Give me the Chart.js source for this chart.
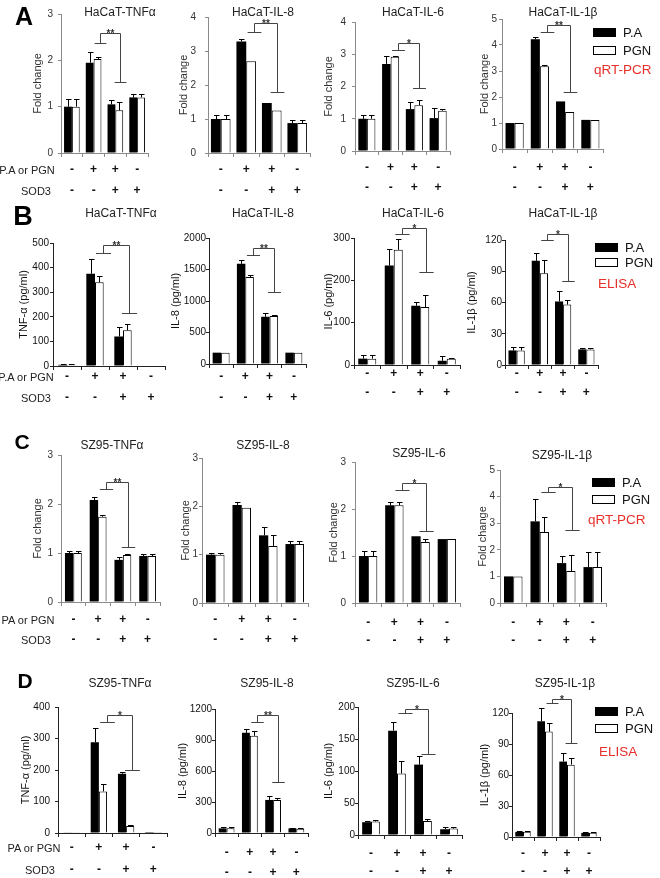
<!DOCTYPE html>
<html>
<head>
<meta charset="utf-8">
<script src="https://cdn.jsdelivr.net/npm/chart.js@4.4.1/dist/chart.umd.min.js"></script>
<style>
  body { margin: 0; background: #fff; }
  #fig { position: relative; width: 660px; height: 878px; overflow: hidden; font-family: "Liberation Sans", Arial, sans-serif; color: #222; }
  #fig canvas { position: absolute; }
  .lbl { position: absolute; transform: translate(-50%, -50%); line-height: 1; white-space: nowrap; }
  .left { transform: translate(0, -50%); }
  .key { position: absolute; width: 23px; height: 9px; box-sizing: border-box; border: 1px solid #000; }
</style>
</head>
<body>
<div id="fig"></div>
<script>
// treatment rows under each x axis
const paOrPgn = ['-', '+', '+', '-'];
const sod3 = ['-', '-', '+', '+'];

// A: HaCaT, qRT-PCR (fold change)
const aTnfPA = [1.0, 1.95, 1.05, 1.2];
const aTnfPAErr = [0.17, 0.23, 0.1, 0.08];
const aTnfPGN = [1.0, 2.03, 0.92, 1.2];
const aTnfPGNErr = [0.17, 0.04, 0.18, 0.08];
const aTnfSig = [2.37, 2.6, 1.53];

const aIl8PA = [1.0, 3.28, 1.47, 0.88];
const aIl8PAErr = [0.12, 0.08, 0, 0.08];
const aIl8PGN = [1.0, 2.7, 1.25, 0.88];
const aIl8PGNErr = [0.12, 0, 0, 0.08];
const aIl8Sig = [3.56, 3.82, 1.8];

const aIl6PA = [1.0, 2.7, 1.3, 1.02];
const aIl6PAErr = [0.12, 0.25, 0.22, 0.3];
const aIl6PGN = [1.0, 2.92, 1.42, 1.25];
const aIl6PGNErr = [0.12, 0.03, 0.15, 0.05];
const aIl6Sig = [3.13, 3.35, 1.95];

const aIl1PA = [1.0, 4.22, 1.83, 1.12];
const aIl1PAErr = [0, 0.08, 0, 0];
const aIl1PGN = [1.0, 3.18, 1.42, 1.12];
const aIl1PGNErr = [0, 0.05, 0, 0];
const aIl1Sig = [4.5, 4.77, 2.2];

// B: HaCaT, ELISA (pg/ml)
const bTnfPA = [5, 375, 120, 0];
const bTnfPAErr = [3, 60, 40, 0];
const bTnfPGN = [5, 340, 145, 0];
const bTnfPGNErr = [3, 25, 25, 0];
const bTnfSig = [460, 492, 215];

const bIl8PA = [180, 1590, 750, 180];
const bIl8PAErr = [0, 60, 60, 0];
const bIl8PGN = [180, 1380, 760, 180];
const bIl8PGNErr = [0, 40, 10, 0];
const bIl8Sig = [1730, 1840, 1140];

const bIl6PA = [15, 235, 140, 10];
const bIl6PAErr = [8, 40, 8, 12];
const bIl6PGN = [15, 272, 137, 15];
const bIl6PGNErr = [8, 25, 28, 2];
const bIl6Sig = [309, 323, 220];

const bIl1PA = [14, 100, 61, 15];
const bIl1PAErr = [3, 8, 10, 1];
const bIl1PGN = [14, 88, 58, 15];
const bIl1PGNErr = [3, 13, 4, 1];
const bIl1Sig = [120, 126, 81];

// C: SZ95, qRT-PCR (fold change)
const cTnfPA = [1.0, 2.08, 0.86, 0.94];
const cTnfPAErr = [0.04, 0.06, 0.06, 0.03];
const cTnfPGN = [1.0, 1.74, 0.96, 0.94];
const cTnfPGNErr = [0.04, 0.03, 0.01, 0.03];
const cTnfSig = [2.3, 2.45, 1.12];

const cIl8PA = [1.0, 2.03, 1.4, 1.22];
const cIl8PAErr = [0.03, 0.06, 0.18, 0.07];
const cIl8PGN = [1.0, 1.97, 1.18, 1.22];
const cIl8PGNErr = [0.03, 0, 0.23, 0.07];

const cIl6PA = [1.0, 2.08, 1.42, 1.36];
const cIl6PAErr = [0.1, 0.07, 0, 0];
const cIl6PGN = [1.0, 2.08, 1.3, 1.36];
const cIl6PGNErr = [0.1, 0.07, 0.07, 0];
const cIl6Sig = [2.4, 2.55, 1.53];

const cIl1PA = [1.0, 3.07, 1.5, 1.35];
const cIl1PAErr = [0, 0.85, 0.28, 0.57];
const cIl1PGN = [1.0, 2.67, 1.2, 1.35];
const cIl1PGNErr = [0, 0.55, 0.62, 0.57];
const cIl1Sig = [4.17, 4.36, 2.74];

// D: SZ95, ELISA (pg/ml)
const dTnfPA = [2, 288, 188, 3];
const dTnfPAErr = [0, 45, 5, 0];
const dTnfPGN = [2, 132, 22, 3];
const dTnfPGNErr = [0, 25, 3, 0];
const dTnfSig = [352, 375, 200];

const dIl8PA = [45, 970, 320, 45];
const dIl8PAErr = [15, 35, 35, 5];
const dIl8PGN = [45, 940, 320, 40];
const dIl8PGNErr = [15, 45, 20, 5];
const dIl8Sig = [1074, 1142, 494];

const dIl6PA = [20, 163, 110, 9];
const dIl6PAErr = [2, 13, 14, 4];
const dIl6PGN = [21, 96, 22, 10];
const dIl6PGNErr = [2, 20, 3, 2];
const dIl6Sig = [190, 197, 127];

const dIl1PA = [5, 112, 73, 4];
const dIl1PAErr = [1, 13, 8, 1];
const dIl1PGN = [5, 102, 70, 4];
const dIl1PGNErr = [1, 8, 6, 1];
const dIl1Sig = [130, 134, 91];

const fig = document.getElementById('fig');
const GREY = '#8a8a8a', DARK = '#222';

function addText(text, x, y, css) {
  const d = document.createElement('div');
  d.className = 'lbl' + (css && css.left ? ' left' : '');
  d.textContent = text;
  d.style.left = x + 'px';
  d.style.top = y + 'px';
  d.style.fontSize = (css && css.size || 12) + 'px';
  if (css && css.bold) d.style.fontWeight = 'bold';
  if (css && css.color) d.style.color = css.color;
  fig.appendChild(d);
}

// error bars: read value + err through the y scale
const errorBars = {
  id: 'errorBars',
  afterDatasetsDraw(chart) {
    const ctx = chart.ctx, y = chart.scales.y;
    chart.data.datasets.forEach((ds, di) => {
      chart.getDatasetMeta(di).data.forEach((bar, i) => {
        const e = ds.err[i];
        if (!e) return;
        const bx = Math.round(bar.x) + 0.5;
        const y0 = y.getPixelForValue(ds.data[i]);
        const y1 = Math.round(y.getPixelForValue(ds.data[i] + e)) + 0.5;
        ctx.save();
        ctx.strokeStyle = '#000';
        ctx.lineWidth = 1;
        ctx.beginPath();
        ctx.moveTo(bx, y0);
        ctx.lineTo(bx, y1);
        ctx.moveTo(bx - 2.5, y1);
        ctx.lineTo(bx + 3, y1);
        ctx.stroke();
        ctx.restore();
      });
    });
  }
};

// significance bracket between group 2 and group 3
const sigBracket = {
  id: 'sigBracket',
  afterDraw(chart, args, opts) {
    if (!opts.vals) return;
    const ctx = chart.ctx, xs = chart.scales.x, ys = chart.scales.y;
    const w = xs.getPixelForValue(1) - xs.getPixelForValue(0);
    const x1 = Math.round(xs.getPixelForValue(1) + 0.3 * w) + 0.5;
    const x2 = Math.round(xs.getPixelForValue(2) + 0.2 * w) + 0.5;
    const [l, t, r] = opts.vals.map(v => Math.round(ys.getPixelForValue(v)) + 0.5);
    const h = 0.27 * w;
    ctx.save();
    ctx.strokeStyle = '#444';
    ctx.lineWidth = 1;
    ctx.beginPath();
    ctx.moveTo(x1 - h, l); ctx.lineTo(x1 + h, l);
    ctx.moveTo(x1, l); ctx.lineTo(x1, t); ctx.lineTo(x2, t); ctx.lineTo(x2, r);
    ctx.moveTo(x2 - h, r); ctx.lineTo(x2 + h, r);
    ctx.stroke();
    ctx.fillStyle = '#333';
    ctx.font = 'bold 10px "Liberation Sans", Arial';
    ctx.textAlign = 'center';
    ctx.textBaseline = 'middle';
    ctx.fillText(opts.text, (x1 + x2) / 2, t + 1);
    ctx.restore();
  }
};

const panels = [
  {title: 'HaCaT-TNFα', tx: 120, ty: 12, x: 61, top: 14, bottom: 153, right: 148, w: 30, yPad: 8, max: 3, step: 1, yTitle: 'Fold change', pa: aTnfPA, paErr: aTnfPAErr, pgn: aTnfPGN, pgnErr: aTnfPGNErr, sig: aTnfSig, stars: '**', r1: 170, r2: 191, grey: true, cat: 0.72},
  {title: 'HaCaT-IL-8', tx: 263, ty: 12, x: 208, top: 17, bottom: 153, right: 310, w: 31, yPad: 12, max: 4, step: 1, yTitle: 'Fold change', pa: aIl8PA, paErr: aIl8PAErr, pgn: aIl8PGN, pgnErr: aIl8PGNErr, sig: aIl8Sig, stars: '**', r1: 170, r2: 191, grey: true, cat: 0.77},
  {title: 'HaCaT-IL-6', tx: 413, ty: 12, x: 355, top: 22, bottom: 151, right: 450, w: 33, yPad: 9, max: 4, step: 1, yTitle: 'Fold change', pa: aIl6PA, paErr: aIl6PAErr, pgn: aIl6PGN, pgnErr: aIl6PGNErr, sig: aIl6Sig, stars: '*', r1: 168, r2: 188, grey: true, cat: 0.72},
  {title: 'HaCaT-IL-1β', tx: 563, ty: 12, x: 502, top: 19, bottom: 149, right: 603, w: 24, yPad: 5, max: 5, step: 1, yTitle: 'Fold change', pa: aIl1PA, paErr: aIl1PAErr, pgn: aIl1PGN, pgnErr: aIl1PGNErr, sig: aIl1Sig, stars: '**', r1: 168, r2: 188, grey: true, cat: 0.72},

  {title: 'HaCaT-TNFα', tx: 121, ty: 213, x: 53, top: 243, bottom: 366, right: 165, w: 36, yPad: 4, max: 500, step: 100, yTitle: 'TNF-α (pg/ml)', pa: bTnfPA, paErr: bTnfPAErr, pgn: bTnfPGN, pgnErr: bTnfPGNErr, sig: bTnfSig, stars: '**', r1: 377, r2: 398, grey: false, cat: 0.62},
  {title: 'HaCaT-IL-8', tx: 263, ty: 213, x: 209, top: 238, bottom: 364, right: 306, w: 40, yPad: 2, max: 2000, step: 500, yTitle: 'IL-8 (pg/ml)', pa: bIl8PA, paErr: bIl8PAErr, pgn: bIl8PGN, pgnErr: bIl8PGNErr, sig: bIl8Sig, stars: '**', r1: 377, r2: 398, grey: false, cat: 0.7},
  {title: 'HaCaT-IL-6', tx: 413, ty: 213, x: 354, top: 238, bottom: 365, right: 460, w: 32, yPad: 4, max: 300, step: 100, yTitle: 'IL-6 (pg/ml)', pa: bIl6PA, paErr: bIl6PAErr, pgn: bIl6PGN, pgnErr: bIl6PGNErr, sig: bIl6Sig, stars: '*', r1: 374, r2: 393, grey: false, cat: 0.68},
  {title: 'HaCaT-IL-1β', tx: 563, ty: 213, x: 505, top: 240, bottom: 365, right: 598, w: 40, yPad: 3, max: 120, step: 30, yTitle: 'IL-1β (pg/ml)', pa: bIl1PA, paErr: bIl1PAErr, pgn: bIl1PGN, pgnErr: bIl1PGNErr, sig: bIl1Sig, stars: '*', r1: 374, r2: 393, grey: false, cat: 0.7},

  {title: 'SZ95-TNFα', tx: 112, ty: 445, x: 61, top: 455, bottom: 602, right: 160, w: 30, yPad: 8, max: 3, step: 1, yTitle: 'Fold change', pa: cTnfPA, paErr: cTnfPAErr, pgn: cTnfPGN, pgnErr: cTnfPGNErr, sig: cTnfSig, stars: '**', r1: 620, r2: 640, grey: true, cat: 0.68},
  {title: 'SZ95-IL-8', tx: 263, ty: 445, x: 202, top: 458, bottom: 603, right: 308, w: 23, yPad: 4, max: 3, step: 1, yTitle: 'Fold change', pa: cIl8PA, paErr: cIl8PAErr, pgn: cIl8PGN, pgnErr: cIl8PGNErr, sig: null, stars: '', r1: 620, r2: 640, grey: true, cat: 0.7},
  {title: 'SZ95-IL-6', tx: 419, ty: 453, x: 355, top: 462, bottom: 603, right: 460, w: 28, yPad: 9, max: 3, step: 1, yTitle: 'Fold change', pa: cIl6PA, paErr: cIl6PAErr, pgn: cIl6PGN, pgnErr: cIl6PGNErr, sig: cIl6Sig, stars: '*', r1: 623, r2: 641, grey: true, cat: 0.7},
  {title: 'SZ95-IL-1β', tx: 562, ty: 455, x: 500, top: 470, bottom: 603, right: 606, w: 24, yPad: 5, max: 5, step: 1, yTitle: 'Fold change', pa: cIl1PA, paErr: cIl1PAErr, pgn: cIl1PGN, pgnErr: cIl1PGNErr, sig: cIl1Sig, stars: '*', r1: 623, r2: 641, grey: true, cat: 0.7},

  {title: 'SZ95-TNFα', tx: 120, ty: 683, x: 58, top: 707, bottom: 833, right: 167, w: 39, yPad: 8, max: 400, step: 100, yTitle: 'TNF-α (pg/ml)', pa: dTnfPA, paErr: dTnfPAErr, pgn: dTnfPGN, pgnErr: dTnfPGNErr, sig: dTnfSig, stars: '*', r1: 848, r2: 870, grey: false, cat: 0.6},
  {title: 'SZ95-IL-8', tx: 267, ty: 683, x: 215, top: 709, bottom: 833, right: 308, w: 39, yPad: 3, max: 1200, step: 300, yTitle: 'IL-8 (pg/ml)', pa: dIl8PA, paErr: dIl8PAErr, pgn: dIl8PGN, pgnErr: dIl8PGNErr, sig: dIl8Sig, stars: '**', r1: 853, r2: 873, grey: false, cat: 0.68},
  {title: 'SZ95-IL-6', tx: 413, ty: 683, x: 358, top: 707, bottom: 835, right: 462, w: 36, yPad: 2, max: 200, step: 50, yTitle: 'IL-6 (pg/ml)', pa: dIl6PA, paErr: dIl6PAErr, pgn: dIl6PGN, pgnErr: dIl6PGNErr, sig: dIl6Sig, stars: '*', r1: 854, r2: 872, grey: false, cat: 0.68},
  {title: 'SZ95-IL-1β', tx: 565, ty: 683, x: 512, top: 713, bottom: 837, right: 600, w: 34, yPad: 2, max: 120, step: 30, yTitle: 'IL-1β (pg/ml)', pa: dIl1PA, paErr: dIl1PAErr, pgn: dIl1PGN, pgnErr: dIl1PGNErr, sig: dIl1Sig, stars: '*', r1: 854, r2: 872, grey: false, cat: 0.7}
];

const PAD_TOP = 24, PAD_LEFT = 24, PAD_RIGHT = 6, X_TICK = 4;

panels.forEach(p => {
  const axisCol = p.grey ? GREY : DARK;
  const textCol = p.grey ? '#333' : '#111';
  const gap = p.r2 - p.r1;
  const xh = p.r2 - p.bottom + 12;
  const cv = document.createElement('canvas');
  const cw = PAD_LEFT + p.w + (p.right - p.x) + PAD_RIGHT;
  const ch = PAD_TOP + (p.bottom - p.top) + xh;
  cv.width = cw;
  cv.height = ch;
  cv.style.left = (p.x - p.w - PAD_LEFT) + 'px';
  cv.style.top = (p.top - PAD_TOP) + 'px';
  fig.appendChild(cv);

  new Chart(cv, {
    type: 'bar',
    data: {
      labels: paOrPgn.map((v, i) => [v, sod3[i]]),
      datasets: [
        {label: 'P.A', data: p.pa, err: p.paErr, backgroundColor: '#000', borderWidth: 0},
        {label: 'PGN', data: p.pgn, err: p.pgnErr, backgroundColor: '#fff', borderColor: '#000', borderWidth: 1, borderSkipped: 'bottom'}
      ]
    },
    options: {
      responsive: false,
      animation: false,
      events: [],
      layout: {padding: {top: PAD_TOP, left: PAD_LEFT, right: PAD_RIGHT, bottom: 0}},
      datasets: {bar: {categoryPercentage: p.cat, barPercentage: 1}},
      plugins: {
        legend: {display: false},
        tooltip: {enabled: false},
        sigBracket: {vals: p.sig, text: p.stars}
      },
      scales: {
        x: {
          grid: {drawOnChartArea: false, tickLength: X_TICK, color: axisCol, offset: true},
          border: {color: axisCol, width: 1},
          ticks: {
            autoSkip: false, maxRotation: 0, color: '#111',
            font: {family: '"Liberation Sans", Arial', size: 12, weight: 'bold', lineHeight: gap + 'px'},
            padding: p.r1 - p.bottom - X_TICK - gap / 2
          },
          afterFit: s => { s.height = xh; }
        },
        y: {
          min: 0, max: p.max,
          grid: {drawOnChartArea: false, tickLength: 3, color: axisCol},
          border: {color: axisCol, width: 1},
          ticks: {
            stepSize: p.step, color: textCol, padding: Math.max(p.yPad - 3, 0),
            font: {family: '"Liberation Sans", Arial', size: 10},
            callback: v => String(v)
          },
          title: {display: true, text: p.yTitle, color: textCol, padding: 0, font: {family: '"Liberation Sans", Arial', size: 11}},
          afterFit: s => { s.width = p.w; }
        }
      }
    },
    plugins: [errorBars, sigBracket]
  });

  addText(p.title, p.tx, p.ty, {size: 12});
});

// panel letters
addText('A', 24, 16, {size: 25, bold: true, color: '#000'});
addText('B', 23, 216, {size: 27, bold: true, color: '#000'});
addText('C', 22, 441, {size: 21, bold: true, color: '#000'});
addText('D', 25, 680, {size: 21, bold: true, color: '#000'});

// row labels at left
addText('P.A or PGN', 27, 170, {size: 11});
addText('SOD3', 36, 191, {size: 11});
addText('P.A or PGN', 26, 377, {size: 11});
addText('SOD3', 36, 398, {size: 11});
addText('PA or PGN', 28, 620, {size: 11});
addText('SOD3', 36, 640, {size: 11});
addText('PA or PGN', 34, 848, {size: 11});
addText('SOD3', 40, 870, {size: 11});

// legends
function legend(x, yBlack, yWhite, method, mx, my) {
  const b = document.createElement('div');
  b.className = 'key';
  b.style.left = x + 'px'; b.style.top = (yBlack - 4) + 'px'; b.style.background = '#000';
  fig.appendChild(b);
  const w = document.createElement('div');
  w.className = 'key';
  w.style.left = x + 'px'; w.style.top = (yWhite - 4) + 'px'; w.style.background = '#fff';
  fig.appendChild(w);
  addText('P.A', x + 30, yBlack, {size: 13, left: true, color: '#111'});
  addText('PGN', x + 30, yWhite, {size: 13, left: true, color: '#111'});
  addText(method, mx, my, {size: 13.5, left: true, color: '#e8302a'});
}
legend(593, 32, 50, 'qRT-PCR', 594, 70);
legend(595, 247, 262, 'ELISA', 598, 284);
legend(592, 482, 499, 'qRT-PCR', 588, 520);
legend(595, 711, 728, 'ELISA', 599, 752);
</script>
</body>
</html>
